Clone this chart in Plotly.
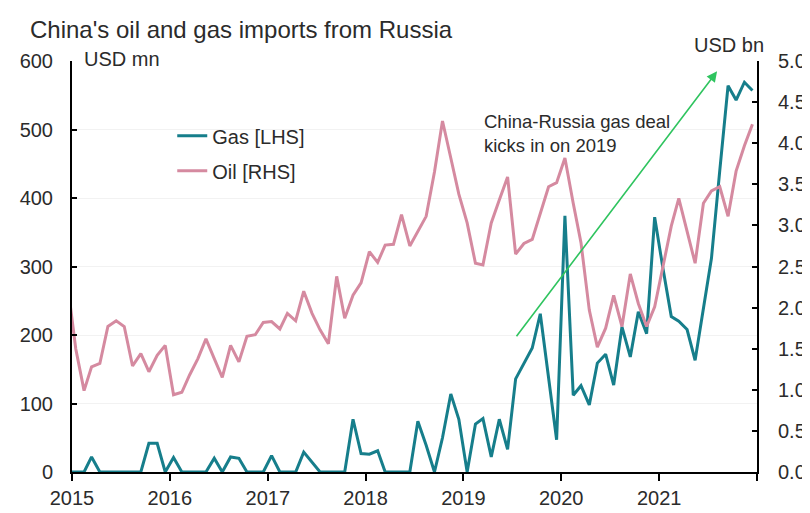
import plotly.graph_objects as go

# ---- data (monthly, Dec 2014 .. Dec 2021) ----
months = [f"{y}-{m:02d}-15" for y in range(2014, 2022) for m in range(1, 13)][11:]

gas_usd_mn = [
    0,
    0, 0, 22, 0, 0, 0, 0, 0, 0, 42, 42, 0,
    21, 0, 0, 0, 0, 20, 0, 22, 20, 0, 0, 0,
    24, 0, 0, 0, 29, 14, 0, 0, 0, 0, 77, 27,
    26, 31, 0, 0, 0, 0, 74, 39, 0, 50, 114, 77,
    0, 70, 78, 22, 77, 33, 136, 159, 181, 231, 135, 47,
    374, 112, 126, 98, 159, 172, 127, 212, 168, 234, 202, 372,
    297, 227, 220, 208, 163, 236, 312, 440, 564, 543, 569, 557,
]

oil_usd_bn = [
    2.3,
    1.5, 0.99, 1.28, 1.32, 1.77, 1.84, 1.77, 1.29, 1.44, 1.22, 1.42, 1.54,
    0.94, 0.97, 1.18, 1.38, 1.62, 1.38, 1.15, 1.54, 1.34, 1.65, 1.67, 1.82,
    1.83, 1.74, 1.93, 1.84, 2.20, 1.93, 1.73, 1.56, 2.38, 1.87, 2.15, 2.30,
    2.68, 2.55, 2.76, 2.77, 3.13, 2.75, 2.93, 3.11, 3.65, 4.27, 3.82, 3.38,
    3.03, 2.54, 2.52, 3.03, 3.31, 3.59, 2.65, 2.78, 2.83, 3.15, 3.47, 3.52,
    3.82, 3.27, 2.79, 1.97, 1.52, 1.75, 2.15, 1.77, 2.41, 2.05, 1.77, 2.01,
    2.52, 2.99, 3.33, 2.91, 2.54, 3.27, 3.42, 3.47, 3.11, 3.66, 3.97, 4.23,
]

year_ticks = ["2015-01-01", "2016-01-01", "2017-01-01", "2018-01-01",
              "2019-01-01", "2020-01-01", "2021-01-01", "2022-01-01"]
year_labels = ["2015", "2016", "2017", "2018", "2019", "2020", "2021", ""]

left_ticks = [0, 100, 200, 300, 400, 500, 600]
right_ticks = [0, 0.5, 1.0, 1.5, 2.0, 2.5, 3.0, 3.5, 4.0, 4.5, 5.0]

arrow_start = ("2019-07-14", 196)
arrow_end = ("2021-08-05", 585)

TEAL = "#167e8b"
PINK = "#d58aa0"
GREEN = "#2fc45f"
FONT = "Arial, Liberation Sans, sans-serif"
TXT = "#2b2b2b"

fig = go.Figure()
fig.add_trace(go.Scatter(x=months, y=gas_usd_mn, name="Gas [LHS]", mode="lines",
                         line=dict(color=TEAL, width=3), yaxis="y", legendgroup="g"))
fig.add_trace(go.Scatter(x=months, y=oil_usd_bn, name="Oil [RHS]", mode="lines",
                         line=dict(color=PINK, width=3), yaxis="y2", legendgroup="o"))

fig.update_layout(
    width=810, height=513,
    margin=dict(l=63, r=50, t=53, b=36),
    paper_bgcolor="white", plot_bgcolor="white",
    font=dict(family=FONT, size=20, color=TXT),
    title=dict(text="China's oil and gas imports from Russia", x=22 / 810, xanchor="left",
               xref="container", yref="container", y=1 - 22 / 513, yanchor="middle",
               font=dict(size=24, color=TXT, family=FONT)),
    xaxis=dict(type="date", range=["2015-01-01", "2022-01-01"],
               tickmode="array", tickvals=year_ticks, ticktext=year_labels,
               showgrid=False, showline=True, linecolor="black", linewidth=2,
               ticks="outside", ticklen=7, tickwidth=2, tickcolor="black",
               tickfont=dict(size=20, color=TXT), zeroline=False),
    yaxis=dict(range=[0, 600], tickmode="array", tickvals=left_ticks,
               showgrid=True, gridcolor="#f2f2f2", gridwidth=1,
               showline=True, linecolor="black", linewidth=2,
               ticks="inside", ticklen=5, tickwidth=2, tickcolor="black",
               tickfont=dict(size=20, color=TXT), zeroline=False,
               ticklabelstandoff=13),
    yaxis2=dict(range=[0, 5], overlaying="y", side="right", tickmode="array",
                tickvals=right_ticks, tickformat=".1f", showgrid=False,
                showline=True, linecolor="black", linewidth=2,
                ticks="inside", ticklen=5, tickwidth=2, tickcolor="black",
                tickfont=dict(size=20, color=TXT), zeroline=False,
                ticklabelstandoff=15),
    legend=dict(x=(165 - 63) / 697, y=(477 - 110) / 424, xanchor="left", yanchor="top",
                bgcolor="rgba(0,0,0,0)", font=dict(size=20, color=TXT),
                traceorder="grouped", tracegroupgap=6),
    showlegend=True,
)

fig.add_annotation(text="USD mn", xref="paper", yref="paper", x=(73 - 63) / 697,
                   y=(477 - 51) / 424, xanchor="left", yanchor="middle", showarrow=False,
                   font=dict(size=20, color=TXT))
fig.add_annotation(text="USD bn", xref="paper", yref="paper", x=(769 - 63) / 697,
                   y=(477 - 37) / 424, xanchor="right", yanchor="middle", showarrow=False,
                   font=dict(size=20, color=TXT))
fig.add_annotation(text="China-Russia gas deal<br>kicks in on 2019", xref="paper", yref="paper",
                   x=(480 - 63) / 697, y=(477 - 103) / 424, xanchor="left", yanchor="top",
                   align="left", showarrow=False, font=dict(size=18.5, color=TXT))
fig.add_annotation(x=arrow_end[0], y=arrow_end[1], ax=arrow_start[0], ay=arrow_start[1],
                   xref="x", yref="y", axref="x", ayref="y", text="", showarrow=True,
                   arrowhead=2, arrowsize=1.3, arrowwidth=1.6, arrowcolor=GREEN)

fig.write_html("out.html")
